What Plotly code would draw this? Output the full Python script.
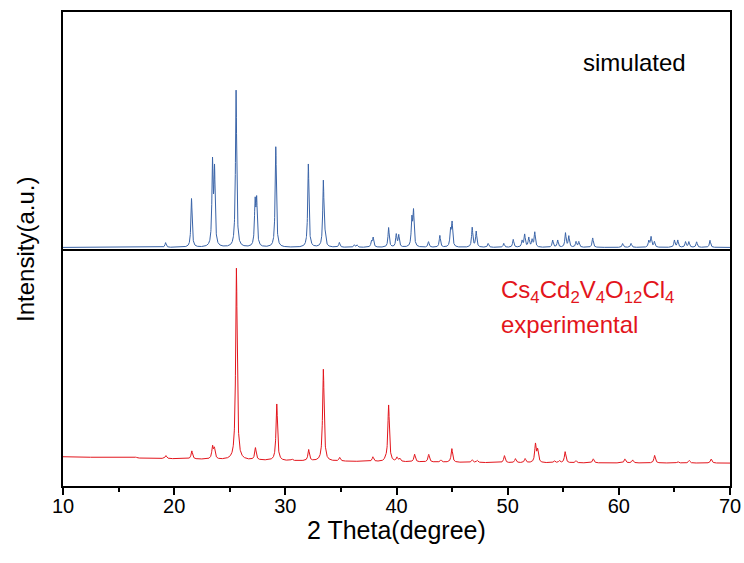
import numpy as np
import plotly.graph_objects as go
from plotly.subplots import make_subplots

# ---- data ----
# simulated pattern: peak positions (2theta, deg) and relative heights (%)
sim_pos = [19.23, 21.56, 23.45, 23.63, 25.57, 27.28, 27.42, 29.14, 32.07, 33.42, 33.58,
           34.86, 36.2, 36.45, 37.75, 37.9, 39.29, 39.98, 40.2, 41.38, 41.53, 42.88,
           43.9, 44.86, 45.0, 46.81, 47.17, 48.25, 49.65, 50.5, 51.3, 51.53, 51.9,
           52.2, 52.44, 54.05, 54.5, 55.2, 55.5, 56.15, 56.4, 57.65, 60.35, 61.1,
           62.7, 62.9, 63.2, 65.0, 65.3, 66.0, 66.3, 67.0, 68.2]
sim_int = [3, 31, 52, 47, 100, 27, 28, 64, 53, 42, 5,
           3, 1.5, 1.5, 3.5, 6, 12.5, 8, 7.5, 17, 22, 3.5,
           7.5, 10, 15, 12.5, 10, 2.5, 2.5, 5, 4, 8, 6,
           4.5, 9.5, 4.5, 4.5, 9, 7, 3.5, 3.5, 6, 2.5, 2.5,
           4, 6.5, 3.5, 4.5, 4.5, 3.5, 3.5, 3.5, 4.5]

# experimental pattern: background level and peaks (arbitrary units)
exp_bg_x = [10, 20, 30, 40, 50, 70]
exp_bg_y = [29, 27, 25, 24, 23, 22.7]
exp_pos = [16.56, 19.25, 21.59, 23.45, 23.62, 25.6, 27.31, 29.23, 30.6, 32.1, 33.42,
           34.89, 37.88, 39.02, 39.29, 40.04, 40.3, 41.63, 42.9, 44.0, 44.98, 46.81,
           47.26, 49.71, 50.7, 51.57, 52.5, 52.7, 54.2, 54.65, 55.17, 56.15, 57.7,
           60.55, 61.24, 63.22, 65.3, 66.33, 68.31]
exp_int = [1, 3, 8, 12, 10, 190, 12, 56, 1.5, 11, 91,
           3.5, 4.5, 2, 56, 4, 3, 7.5, 7.5, 2, 13.5, 2.5,
           2, 7, 4, 4, 18, 12, 2, 2, 11, 2, 4,
           4, 3, 7.5, 1.5, 2.5, 4]

x_ticks = [10, 20, 30, 40, 50, 60, 70]

# ---- build profiles from the peak lists ----
grid = np.linspace(10, 70, 6001)


def profile(pos, amp, fwhm):
    g = fwhm / 2.0
    y = np.zeros_like(grid)
    for p, a in zip(pos, amp):
        y += a * g * g / ((grid - p) ** 2 + g * g)
    return y


sim_y = profile(sim_pos, sim_int, 0.13)
exp_y = np.interp(grid, exp_bg_x, exp_bg_y) + profile(exp_pos, exp_int, 0.16)

BLUE = "#3a64a8"
RED = "#e3151c"
FONT = "Liberation Sans, Arial, sans-serif"

fig = make_subplots(rows=2, cols=1, shared_xaxes=True, vertical_spacing=0)
fig.add_trace(go.Scatter(x=grid, y=sim_y, mode="lines",
                         line=dict(color=BLUE, width=1), showlegend=False), row=1, col=1)
fig.add_trace(go.Scatter(x=grid, y=exp_y, mode="lines",
                         line=dict(color=RED, width=1), showlegend=False), row=2, col=1)

LW = 1.6
fig.update_xaxes(range=[10, 70], showline=True, linecolor="black", linewidth=LW,
                 showgrid=False, zeroline=False, automargin=False)
fig.update_xaxes(mirror=True, showticklabels=False, ticks="", row=1, col=1)
fig.update_xaxes(mirror=False, tickvals=x_ticks, ticks="outside", ticklen=7, tickwidth=LW,
                 tickcolor="black", ticklabelstandoff=-6, ticklabeloverflow="allow",
                 minor=dict(dtick=5, ticks="outside", ticklen=4, tickwidth=LW,
                            tickcolor="black", tick0=10),
                 tickfont=dict(family=FONT, size=20, color="black"),
                 row=2, col=1)
fig.update_yaxes(showticklabels=False, ticks="", showline=True, linecolor="black",
                 linewidth=LW, mirror=True, showgrid=False, zeroline=False,
                 automargin=False)
fig.update_yaxes(range=[-1, 150], row=1, col=1)
fig.update_yaxes(range=[0, 235], row=2, col=1)

fig.add_annotation(text="simulated", xref="paper", yref="paper", x=0.777, y=0.894,
                   xanchor="left", yanchor="middle", showarrow=False,
                   font=dict(family=FONT, size=24, color="black"))
fig.add_annotation(text="Cs<sub>4</sub>Cd<sub>2</sub>V<sub>4</sub>O<sub>12</sub>Cl<sub>4</sub>",
                   xref="paper", yref="paper", x=0.654, y=0.41,
                   xanchor="left", yanchor="middle", showarrow=False,
                   font=dict(family=FONT, size=24, color=RED))
fig.add_annotation(text="experimental", xref="paper", yref="paper", x=0.654, y=0.34,
                   xanchor="left", yanchor="middle", showarrow=False,
                   font=dict(family=FONT, size=24, color=RED))
fig.add_annotation(text="Intensity(a.u.)", xref="paper", yref="paper", x=-0.057, y=0.5,
                   xanchor="center", yanchor="middle", textangle=-90, showarrow=False,
                   font=dict(family=FONT, size=24, color="black"))
fig.add_annotation(text="2 Theta(degree)", xref="paper", yref="paper", x=0.5, y=-0.093,
                   xanchor="center", yanchor="middle", showarrow=False,
                   font=dict(family=FONT, size=25, color="black"))

fig.update_layout(width=744, height=563, plot_bgcolor="white", paper_bgcolor="white",
                  margin=dict(l=63, r=14, t=12, b=77))
fig.write_html("out.html", config={"displayModeBar": False},
               post_script="document.body.style.margin='0';document.body.style.overflow='hidden';")
